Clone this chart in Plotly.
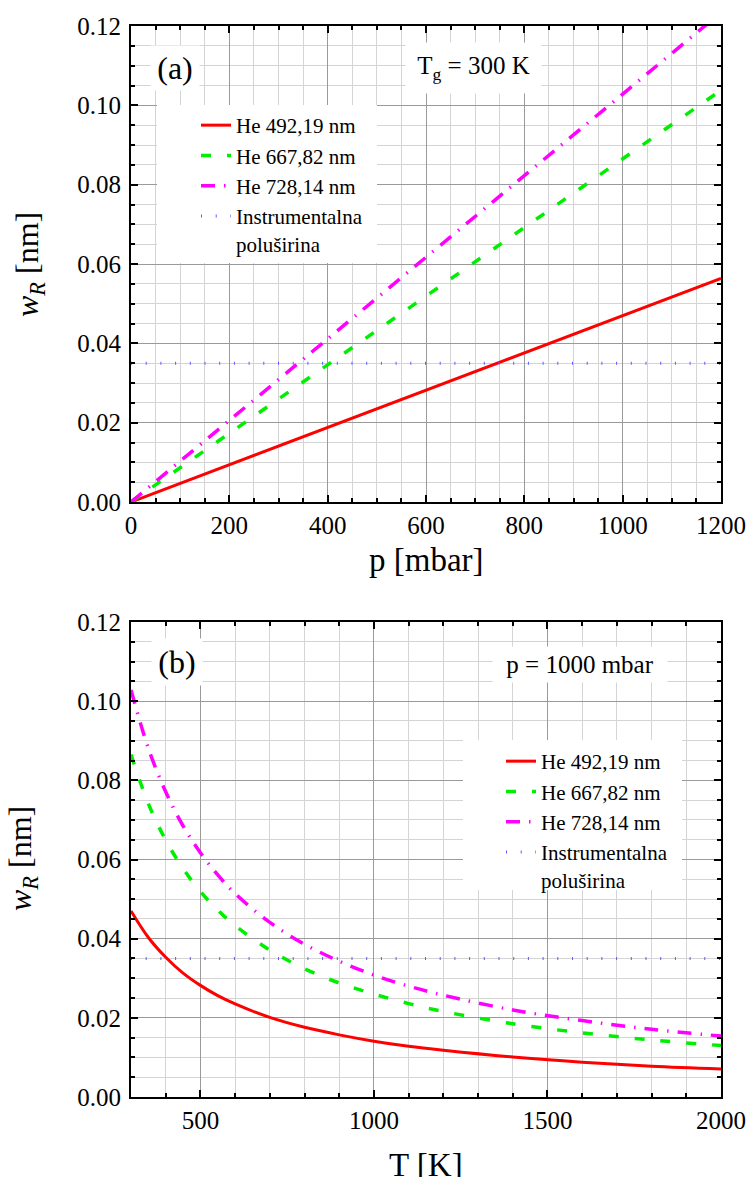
import plotly.graph_objects as go

# ---------------- data ----------------
# panel (a): w_R vs pressure at T_g = 300 K
p_mbar = [0, 200, 400, 600, 800, 1000, 1200]
a_he492 = [0.0, 0.0094, 0.0188, 0.0282, 0.0376, 0.0470, 0.0564]
a_he667 = [0.0, 0.0173, 0.0346, 0.0519, 0.0692, 0.0865, 0.1038]
a_he728 = [0.0, 0.0206, 0.0411, 0.0617, 0.0822, 0.1028, 0.1234]
a_instr_x = [0, 1200]
a_instr_y = [0.035, 0.035]

# panel (b): w_R vs temperature at p = 1000 mbar
T_K = [300, 350, 400, 450, 500, 550, 600, 700, 800, 900, 1000, 1100, 1200, 1400, 1600, 1800, 2000]
b_he492 = [0.0470, 0.0403, 0.0353, 0.0313, 0.0282, 0.0256, 0.0235, 0.0201, 0.0176, 0.0157,
           0.0141, 0.0128, 0.0118, 0.0101, 0.0088, 0.0078, 0.0071]
b_he667 = [0.0865, 0.0741, 0.0649, 0.0577, 0.0519, 0.0472, 0.0433, 0.0371, 0.0324, 0.0288,
           0.0260, 0.0236, 0.0216, 0.0185, 0.0162, 0.0144, 0.0130]
b_he728 = [0.1028, 0.0881, 0.0771, 0.0685, 0.0617, 0.0561, 0.0514, 0.0441, 0.0386, 0.0343,
           0.0308, 0.0280, 0.0257, 0.0220, 0.0193, 0.0171, 0.0154]
b_instr_x = [300, 2000]
b_instr_y = [0.035, 0.035]

names = ["He 492,19 nm", "He 667,82 nm", "He 728,14 nm", "Instrumentalna<br>poluširina"]

# ---------------- styles ----------------
FONT = "Liberation Serif, Times New Roman, Tinos, DejaVu Serif, serif"
styles = [
    dict(color="#ff0000", width=3, dash="solid"),
    dict(color="#00ee00", width=3.5, dash="10px,16px"),
    dict(color="#ff00ff", width=3.5, dash="14px,9px,1.5px,9px"),
    dict(color="#5a5aff", width=3, dash="1px,13.7px"),
]

fig = go.Figure()

panel_a = [(p_mbar, a_he492), (p_mbar, a_he667), (p_mbar, a_he728), (a_instr_x, a_instr_y)]
panel_b = [(T_K, b_he492), (T_K, b_he667), (T_K, b_he728), (b_instr_x, b_instr_y)]

for i, (xs, ys) in enumerate(panel_a):
    fig.add_trace(go.Scatter(x=xs, y=ys, mode="lines", name=names[i], line=styles[i],
                             xaxis="x", yaxis="y", legend="legend"))
for i, (xs, ys) in enumerate(panel_b):
    fig.add_trace(go.Scatter(x=xs, y=ys, mode="lines", name=names[i],
                             line=dict(**styles[i], shape="spline" if i < 3 else "linear"),
                             xaxis="x2", yaxis="y2", legend="legend2"))

L, R, T, B = 131, 27, 26, 80
FW, FH = 748, 1177
PW, PH = FW - L - R, FH - T - B


def px(xp):
    return (xp - L) / PW


def py(yp):
    return (FH - B - yp) / PH


common_axis = dict(
    showline=True, linecolor="black", linewidth=2, mirror="allticks",
    ticks="inside", ticklen=7, tickwidth=2, tickcolor="black",
    showgrid=True, gridcolor="#9a9a9a", gridwidth=1,
    zeroline=False,
    tickfont=dict(family=FONT, size=25, color="black"),
)
minor_common = dict(ticks="inside", ticklen=4, tickwidth=2, tickcolor="black",
                    showgrid=True, gridcolor="#d4d4d4", gridwidth=1)

fig.update_layout(
    width=FW, height=FH,
    margin=dict(l=L, r=R, t=T, b=B, autoexpand=False),
    paper_bgcolor="white", plot_bgcolor="white",
    font=dict(family=FONT, color="black"),
    xaxis=dict(common_axis, domain=[0, 1], anchor="y", range=[0, 1200], dtick=200, tick0=0,
               ticklabeloverflow="allow",
               minor=dict(minor_common, dtick=50)),
    yaxis=dict(common_axis, domain=[py(502), 1], anchor="x", range=[0, 0.12], dtick=0.02, tick0=0,
               tickformat=".2f", ticklabelstandoff=3,
               minor=dict(minor_common, dtick=0.005)),
    xaxis2=dict(common_axis, domain=[0, 1], anchor="y2", range=[300, 2000], dtick=500, tick0=0,
                ticklabeloverflow="allow",
                minor=dict(minor_common, dtick=100)),
    yaxis2=dict(common_axis, domain=[0, py(622)], anchor="x2", range=[0, 0.12], dtick=0.02, tick0=0,
                tickformat=".2f", ticklabelstandoff=3,
                minor=dict(minor_common, dtick=0.005)),
    legend=dict(x=px(196), y=py(105), xanchor="left", yanchor="top",
                bgcolor="rgba(0,0,0,0)", borderwidth=0, valign="top",
                font=dict(family=FONT, size=21, color="black"), tracegroupgap=0),
    legend2=dict(x=px(501), y=py(741), xanchor="left", yanchor="top",
                 bgcolor="rgba(0,0,0,0)", borderwidth=0, valign="top",
                 font=dict(family=FONT, size=21, color="black"), tracegroupgap=0),
    showlegend=True,
)

# white boxes behind the legends
fig.add_shape(type="rect", xref="paper", yref="paper", x0=px(157), x1=px(377), y0=py(263), y1=py(105),
              fillcolor="white", line=dict(width=0), layer="above")
fig.add_shape(type="rect", xref="paper", yref="paper", x0=px(463), x1=px(682), y0=py(890), y1=py(740),
              fillcolor="white", line=dict(width=0), layer="above")

# panel labels / conditions
boxes = [
    ("(a)", 175, 68, 48, 44, 32),
    ("T<sub>g</sub> = 300 K", 473, 68, 135, 50, 25),
    ("(b)", 177, 662, 50, 46, 32),
    ("p = 1000 mbar", 580, 664.5, 174, 35, 25),
]
for txt, cx, cy, w, h, fs in boxes:
    fig.add_annotation(text=txt, xref="paper", yref="paper", x=px(cx), y=py(cy),
                       xanchor="center", yanchor="middle", showarrow=False,
                       width=w, height=h, bgcolor="white", borderpad=0,
                       font=dict(family=FONT, size=fs, color="black"))

# axis titles
fig.add_annotation(text="p [mbar]", xref="paper", yref="paper", x=px(426), y=py(560),
                   xanchor="center", yanchor="middle", showarrow=False,
                   font=dict(family=FONT, size=33, color="black"))
fig.add_annotation(text="T [K]", xref="paper", yref="paper", x=px(426), y=py(1165),
                   xanchor="center", yanchor="middle", showarrow=False,
                   font=dict(family=FONT, size=33, color="black"))
for cx, cy in ((29, 265), (22, 859)):
    fig.add_annotation(text="<i>w</i><sub><i>R</i></sub> [nm]", xref="paper", yref="paper",
                       x=px(cx), y=py(cy), xanchor="center", yanchor="middle", showarrow=False,
                       textangle=-90, font=dict(family=FONT, size=32, color="black"))

fig.write_html("out.html", config={"displayModeBar": False},
               post_script="document.body.style.margin='0';")
